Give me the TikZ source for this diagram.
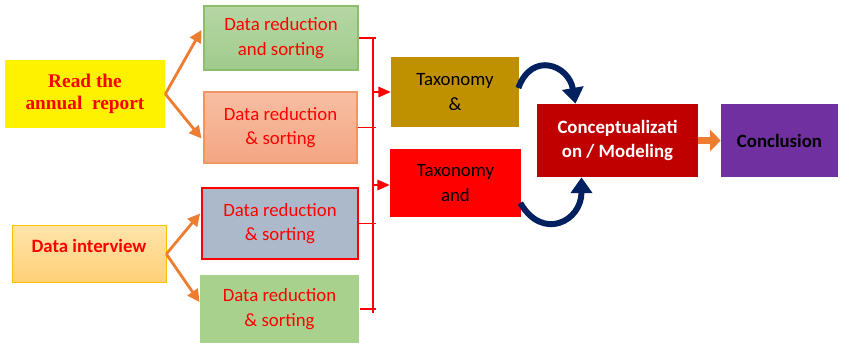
\documentclass[tikz,border=0pt]{standalone}
\usepackage{fontspec}
\setmainfont{Carlito}
\newfontfamily\timesfont{Liberation Serif}
\usetikzlibrary{arrows.meta,calc}
\definecolor{txtred}{HTML}{FF0000}
\definecolor{arrorange}{HTML}{ED7D31}
\definecolor{navyarc}{HTML}{002060}
\definecolor{gold}{HTML}{BF9000}
\definecolor{darkred}{HTML}{C00000}
\definecolor{purp}{HTML}{7030A0}
\definecolor{ivline}{HTML}{FFC000}
\definecolor{ivtop}{RGB}{255,228,170}
\definecolor{ivbot}{RGB}{255,208,120}
\definecolor{grline}{RGB}{140,190,110}
\definecolor{grtop}{RGB}{182,214,164}
\definecolor{grbot}{RGB}{160,203,140}
\definecolor{saline}{RGB}{240,150,100}
\definecolor{satop}{RGB}{247,190,163}
\definecolor{sabot}{RGB}{244,166,131}
\definecolor{slate}{RGB}{172,185,202}
\definecolor{lgreen}{RGB}{169,209,142}
\begin{document}
\begin{tikzpicture}[
  x=0.02cm, y=0.02cm,
  box/.style={rectangle, align=center, inner sep=2pt,
    font=\fontsize{10.7}{14}\selectfont},
  drbox/.style={box, text=txtred, line width=0.6pt},
  taxbox/.style={box, fill=#1, text=black},
  orarr/.style={-{Triangle[length=7pt,width=7pt]}, arrorange, line width=1.6pt},
  redline/.style={draw=txtred, line width=0.9pt},
  redarr/.style={redline, -{Triangle[length=7pt,width=6pt]}},
  navyarr/.style={navyarc, line width=3.4pt, -{Triangle[length=9pt,width=12pt]}}
]
\useasboundingbox (0,0) rectangle (856,-346);

% Sources
\node[box, fill=yellow, text=txtred, minimum width=3.2cm, minimum height=1.36cm,
  font=\timesfont\bfseries\fontsize{11}{12.5}\selectfont] (report) at (85,-94) {Read the\\annual\ \ report};
\node[box, draw=ivline, top color=ivtop, bottom color=ivbot,
  text=txtred, minimum width=3.08cm, minimum height=1.14cm, text depth=0.34cm,
  font=\bfseries\fontsize{10.7}{14}\selectfont] (interview) at (89,-254) {Data interview};

% Data reduction boxes
\node[drbox, draw=grline, top color=grtop, bottom color=grbot,
  minimum width=3.08cm, minimum height=1.28cm] (dr1) at (281,-38) {Data reduction\\and sorting};
\node[drbox, draw=saline, top color=satop, bottom color=sabot,
  minimum width=3.06cm, minimum height=1.42cm] (dr2) at (280.5,-127.5) {Data reduction\\\& sorting};
\node[drbox, draw=txtred, line width=1.1pt, fill=slate,
  minimum width=3.12cm, minimum height=1.42cm] (dr3) at (280,-223.5) {Data reduction\\\& sorting};
\node[drbox, fill=lgreen,
  minimum width=3.18cm, minimum height=1.36cm] (dr4) at (279.5,-309) {Data reduction\\\& sorting};

% Taxonomy boxes
\node[taxbox=gold, minimum width=2.56cm, minimum height=1.4cm] (tax1) at (455,-92) {Taxonomy\\\&};
\node[taxbox=red, minimum width=2.62cm, minimum height=1.36cm] (tax2) at (455.5,-183) {Taxonomy\\and};

% Result boxes
\node[box, fill=darkred, text=white, font=\bfseries\fontsize{10.7}{14}\selectfont,
  minimum width=3.22cm, minimum height=1.46cm] (concept) at (617.5,-140.5) {Conceptualizati\\on / Modeling};
\node[box, fill=purp, text=black, font=\bfseries\fontsize{10.7}{14}\selectfont,
  minimum width=2.34cm, minimum height=1.46cm] (concl) at (779.5,-140.5) {Conclusion};

% Orange arrows
\draw[orarr] (report.east) -- ($(dr1.west)+(-2,8)$);
\draw[orarr] (report.east) -- ($(dr2.west)+(-2,-11)$);
\draw[orarr] (interview.east) -- ($(dr3.west)+(-1,10)$);
\draw[orarr] (interview.east) -- ($(dr4.west)+(0,7)$);

% Red bus
\coordinate (bustop) at (373,-38);
\coordinate (busbot) at (373,-313);
\draw[redline] (bustop) -- (busbot);
\foreach \dbox in {dr1,dr2,dr3,dr4}
  \draw[redline] (\dbox.east) -- ($(\dbox.east -| bustop)+(3,0)$);
\draw[redarr] (tax1.west -| bustop) -- (tax1.west);
\draw[redarr] ($(tax2.west -| bustop)+(0,-2)$) -- ($(tax2.west)+(0,-2)$);

% Curved arrows
\draw[navyarr] ($(tax1.east)+(-1,4)$) to[out=70, in=100, looseness=1.7] ($(concept.north)+(-42,0)$);
\draw[navyarr] ($(tax2.east)+(-1,-20)$) to[out=-60, in=-90, looseness=1.7] ($(concept.south)+(-36,0)$);

% To conclusion
\draw[arrorange, line width=4pt, -{Triangle[length=6pt,width=12pt]}] (concept.east) -- (concl.west);

\end{tikzpicture}
\end{document}
